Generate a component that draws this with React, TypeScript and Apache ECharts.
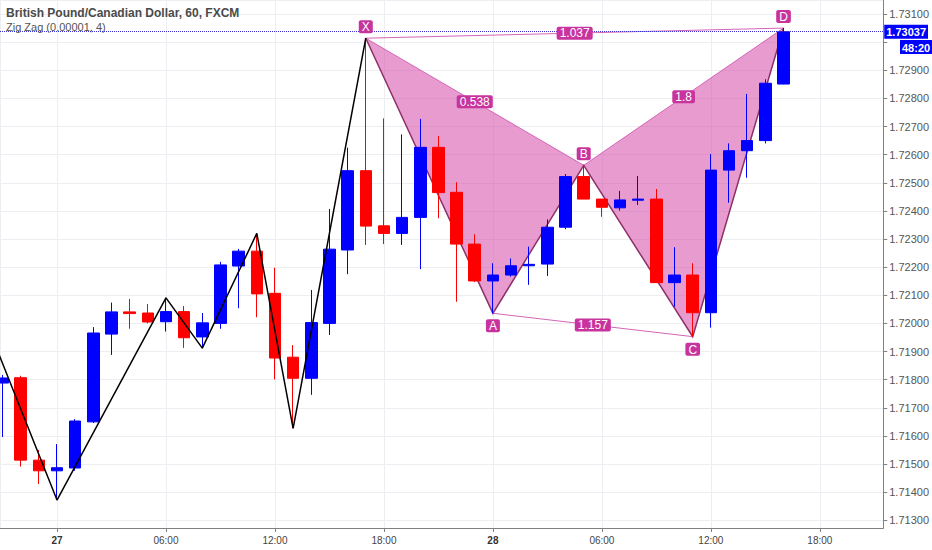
import React, { useEffect, useRef } from 'react';
import * as echarts from 'echarts';

// hourly candles, hour 0 = 27th 00:00
const HOURS = [
    -3, -2, -1, 0, 1, 2, 3, 4, 5, 6, 7, 8, 9, 10, 11, 12, 13, 14, 15, 16, 17, 18, 19, 20, 21,
    22, 23, 24, 25, 26, 27, 28, 29, 30, 31, 32, 33, 34, 35, 36, 37, 38, 39, 40,
];
const OPEN = [
    1.71788, 1.71807, 1.71514, 1.71476, 1.71486, 1.7165, 1.71962, 1.72041, 1.72037, 1.72006,
    1.72042, 1.71952, 1.72, 1.72204, 1.72257, 1.72107, 1.7188, 1.71805, 1.72, 1.72261,
    1.72543, 1.72347, 1.7232, 1.72377, 1.72626, 1.72466, 1.72282, 1.72151, 1.72172, 1.72205,
    1.72211, 1.72342, 1.72522, 1.72442, 1.72411, 1.72438, 1.72442, 1.72145, 1.72172, 1.72038,
    1.72545, 1.72614, 1.7265, 1.72851,
];
const CLOSE = [
    1.71806, 1.71514, 1.71476, 1.71487, 1.71653, 1.71966, 1.72041, 1.72035, 1.72005, 1.72042,
    1.71949, 1.72002, 1.72208, 1.72257, 1.72105, 1.71877, 1.71805, 1.72003, 1.72264, 1.72543,
    1.72346, 1.7232, 1.72377, 1.72626, 1.72465, 1.72282, 1.72151, 1.72172, 1.72205, 1.7221,
    1.72342, 1.72522, 1.72442, 1.72413, 1.72439, 1.72442, 1.72145, 1.72172, 1.72038, 1.72545,
    1.72614, 1.7265, 1.72854, 1.73037,
];
const LOW = [
    1.71596, 1.71491, 1.71429, 1.71372, 1.71476, 1.71646, 1.71888, 1.71981, 1.72, 1.71971,
    1.71913, 1.71912, 1.71981, 1.72054, 1.72022, 1.71801, 1.71627, 1.71746, 1.71959, 1.72175,
    1.72279, 1.72282, 1.72279, 1.72193, 1.72374, 1.72077, 1.72147, 1.72036, 1.72166, 1.72137,
    1.72169, 1.72335, 1.72442, 1.72379, 1.72401, 1.72421, 1.72145, 1.72059, 1.71953, 1.71985,
    1.72429, 1.72518, 1.7264, 1.7285,
];
const HIGH = [
    1.71817, 1.71814, 1.7155, 1.71571, 1.7166, 1.71987, 1.72074, 1.72087, 1.72069, 1.72091,
    1.72062, 1.72037, 1.72219, 1.72265, 1.7232, 1.72198, 1.71923, 1.72119, 1.72407, 1.72625,
    1.73014, 1.72729, 1.72672, 1.72727, 1.72666, 1.72502, 1.72317, 1.72214, 1.72231, 1.72273,
    1.7237, 1.72531, 1.72562, 1.72442, 1.72471, 1.72524, 1.72478, 1.72271, 1.72214, 1.72602,
    1.7264, 1.72816, 1.72868, 1.7305,
];

// zig zag pivots
const ZZ_HOURS = [-4, 0, 6, 8, 11, 13, 17];
const ZZ_PRICES = [1.7202, 1.71372, 1.72091, 1.71912, 1.7232, 1.71627, 1.73014];

// XABCD pattern
const PAT_NAMES = ['X', 'A', 'B', 'C', 'D'];
const PAT_HOURS = [17, 24, 29, 35, 40];
const PAT_PRICES = [1.73014, 1.72036, 1.72562, 1.71953, 1.7305];
const RATIO_PAIRS = [[0, 4], [0, 2], [1, 3], [2, 4]];
const RATIO_TEXTS = ['1.037', '0.538', '1.157', '1.8'];

const LAST_PRICE = 1.73037;
const COUNTDOWN = '48:20';
// tick hidden behind the last-price tags
const HIDDEN_TICK = 1.73;

const X_MIN = -3.138;
const X_MAX = 45.49;
const Y_MIN = 1.712727;
const Y_MAX = 1.731498;

const UP = '#0000ff';
const DOWN = '#ff0000';
const FILL = 'rgba(212, 72, 168, 0.55)';
const EDGE = '#8e2f68';
const THIN = '#d466b8';
const TAG = '#c8339e';
const FONT = '"Liberation Sans Narrow", "Liberation Sans", Arial, sans-serif';

function hourLabel(v: number) {
    const h = Math.round(v);
    const hh = ((h % 24) + 24) % 24;
    if (hh === 0) return '{day|' + (27 + Math.round(h / 24)) + '}';
    return (hh < 10 ? '0' : '') + hh + ':00';
}

function priceLabel(v: number) {
    if (Math.abs(v - HIDDEN_TICK) < 1e-7) return '';
    return v.toFixed(5);
}

function buildOption() {
    return {
        animation: false,
        backgroundColor: '#ffffff',
        textStyle: { fontFamily: FONT },
        title: {
            text: 'British Pound/Canadian Dollar, 60, FXCM',
            subtext: 'Zig Zag (0.00001, 4)',
            left: 6,
            top: 7,
            padding: 0,
            itemGap: 2,
            textStyle: { fontSize: 12, fontWeight: 'bold', color: '#4a4a4a', fontFamily: FONT },
            subtextStyle: { fontSize: 11, color: '#555555', fontFamily: FONT },
        },
        grid: { left: 0, right: 44, top: 0, bottom: 22 },
        xAxis: {
            type: 'value',
            min: X_MIN,
            max: X_MAX,
            minInterval: 6,
            maxInterval: 6,
            axisLine: { onZero: false, lineStyle: { color: '#808080' } },
            axisTick: { length: 4, lineStyle: { color: '#808080' } },
            splitLine: { show: true, lineStyle: { color: '#eceef2' } },
            axisLabel: {
                showMinLabel: false,
                showMaxLabel: false,
                margin: 7,
                color: '#444444',
                fontSize: 10,
                fontFamily: FONT,
                formatter: hourLabel,
                rich: { day: { fontWeight: 'bold', color: '#333333', fontSize: 10, fontFamily: FONT } },
            },
        },
        yAxis: {
            type: 'value',
            position: 'right',
            min: Y_MIN,
            max: Y_MAX,
            minInterval: 0.001,
            maxInterval: 0.001,
            axisLine: { show: true, onZero: false, lineStyle: { color: '#808080' } },
            axisTick: { show: true, length: 4, lineStyle: { color: '#808080' } },
            splitLine: { show: true, lineStyle: { color: '#eceef2' } },
            axisLabel: {
                showMinLabel: false,
                showMaxLabel: false,
                margin: 6,
                color: '#555555',
                fontSize: 11,
                fontFamily: FONT,
                formatter: priceLabel,
            },
        },
        graphic: [
            {
                type: 'text',
                left: 900,
                top: 40,
                z: 100,
                style: {
                    text: COUNTDOWN,
                    fill: '#ffffff',
                    backgroundColor: UP,
                    padding: [2, 2, 1, 2],
                    font: 'bold 11px ' + FONT,
                },
            },
        ],
        series: [
            {
                type: 'custom',
                name: 'pattern',
                silent: true,
                z: 1,
                data: [[PAT_HOURS[0], PAT_PRICES[0]]],
                encode: { x: 0, y: 1 },
                renderItem: (_params: any, api: any) => {
                    const pts = PAT_HOURS.map((h, i) => api.coord([h, PAT_PRICES[i]]));
                    const children: any[] = [
                        { type: 'polygon', shape: { points: [pts[0], pts[1], pts[2]] }, style: { fill: FILL } },
                        { type: 'polygon', shape: { points: [pts[2], pts[3], pts[4]] }, style: { fill: FILL } },
                    ];
                    RATIO_PAIRS.forEach(([a, b]) => {
                        children.push({
                            type: 'line',
                            shape: { x1: pts[a][0], y1: pts[a][1], x2: pts[b][0], y2: pts[b][1] },
                            style: { stroke: THIN, lineWidth: 1 },
                        });
                    });
                    children.push({
                        type: 'polyline',
                        shape: { points: pts },
                        style: { stroke: EDGE, lineWidth: 1.5, fill: 'none' },
                    });
                    return { type: 'group', children };
                },
            },
            {
                type: 'candlestick',
                name: 'GBPCAD',
                z: 3,
                barWidth: 12,
                data: HOURS.map((h, i) => [h, OPEN[i], CLOSE[i], LOW[i], HIGH[i]]),
                itemStyle: { color: UP, color0: DOWN, borderColor: UP, borderColor0: DOWN, borderWidth: 1 },
                markLine: {
                    silent: true,
                    symbol: 'none',
                    animation: false,
                    precision: 5,
                    data: [{ yAxis: LAST_PRICE }],
                    lineStyle: { type: 'dotted', color: '#3a2fd0', width: 1 },
                    label: {
                        show: true,
                        position: 'end',
                        distance: 1,
                        formatter: LAST_PRICE.toFixed(5),
                        color: '#ffffff',
                        backgroundColor: UP,
                        padding: [2, 2, 1, 2],
                        fontSize: 11,
                        fontWeight: 'bold',
                        fontFamily: FONT,
                    },
                },
            },
            {
                type: 'line',
                name: 'Zig Zag',
                z: 4,
                silent: true,
                symbol: 'none',
                clip: true,
                data: ZZ_HOURS.map((h, i) => [h, ZZ_PRICES[i]]),
                lineStyle: { color: '#000000', width: 1.5 },
            },
            {
                type: 'custom',
                name: 'pattern labels',
                silent: true,
                z: 6,
                data: [[PAT_HOURS[0], PAT_PRICES[0]]],
                encode: { x: 0, y: 1 },
                renderItem: (_params: any, api: any) => {
                    const pts = PAT_HOURS.map((h, i) => api.coord([h, PAT_PRICES[i]]));
                    const tag = (text: string, x: number, y: number, va: string) => ({
                        type: 'text',
                        x,
                        y,
                        style: {
                            text,
                            fill: '#ffffff',
                            backgroundColor: TAG,
                            padding: [1, 3, 0, 3],
                            borderRadius: 2,
                            align: 'center',
                            verticalAlign: va,
                            font: '12px ' + FONT,
                        },
                    });
                    const children: any[] = [];
                    PAT_NAMES.forEach((name, i) => {
                        const above = i % 2 === 0;
                        children.push(tag(name, pts[i][0], pts[i][1] + (above ? -5 : 6), above ? 'bottom' : 'top'));
                    });
                    RATIO_PAIRS.forEach(([a, b], i) => {
                        const mx = (pts[a][0] + pts[b][0]) / 2;
                        const my = (pts[a][1] + pts[b][1]) / 2;
                        children.push(tag(RATIO_TEXTS[i], mx, my, 'middle'));
                    });
                    return { type: 'group', children };
                },
            },
        ],
    };
}

export default function App() {
    const chartRef = useRef<HTMLDivElement>(null);

    useEffect(() => {
        document.body.style.margin = '0';
        if (!chartRef.current) return;
        const chart = echarts.init(chartRef.current, undefined, { renderer: 'svg' });
        chart.setOption(buildOption() as any);
        return () => {
            chart.dispose();
        };
    }, []);

    return <div ref={chartRef} style={{ width: 932, height: 550 }} />;
}
